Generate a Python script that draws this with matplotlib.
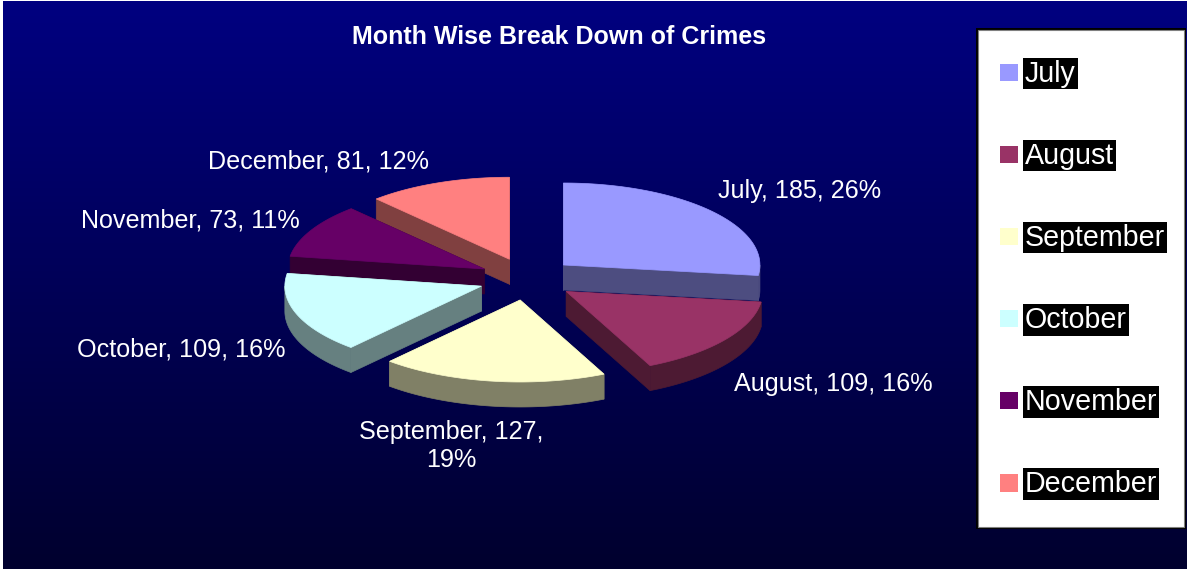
import numpy as np
import matplotlib
matplotlib.use('Agg')
import matplotlib.pyplot as plt
from matplotlib.patches import Polygon, Rectangle

plt.rcParams['font.family'] = ['Liberation Sans', 'DejaVu Sans']

months = ['July', 'August', 'September', 'October', 'November', 'December']
crimes = [185, 109, 127, 109, 73, 81]
percents = [26, 16, 19, 16, 11, 12]
top_colors = ['#9999FF', '#993366', '#FFFFCC', '#CCFFFF', '#660066', '#FF8080']
side_colors = ['#4D4D80', '#4D1A33', '#808066', '#668080', '#330033', '#804040']
title = 'Month Wise Break Down of Crimes'

# pie geometry in pixels
cx, cy = 527, 279
rx, ry = 196.5, 82
ex, ey = 48.5, 21.2
depth = 25


def pt(theta, r=1.0):
    # theta clockwise from the top, degrees
    t = np.radians(theta)
    return np.column_stack([r * rx * np.sin(t), -r * ry * np.cos(t)])


fig = plt.figure(figsize=(11.88, 5.69), dpi=100)
fig.patch.set_facecolor('white')
ax = fig.add_axes([0, 0, 1, 1])

# background gradient
grad = np.linspace(0, 1, 256).reshape(-1, 1, 1)
c1 = np.array([0, 0, 128]) / 255
c2 = np.array([0, 0, 46]) / 255
bg = c1 + (c2 - c1) * grad
ax.imshow(bg, extent=[3, 1187, 569, 1], aspect='auto', zorder=0)
ax.set_xlim(0, 1188)
ax.set_ylim(569, 0)
ax.axis('off')

# wedges
shares = np.array(crimes) / sum(crimes) * 360
ends = np.cumsum(shares)
starts = ends - shares
order = [0, 5, 4, 3, 1, 2]
z = 2
for i in order:
    a0, a1 = starts[i], ends[i]
    mid = (a0 + a1) / 2
    t = np.radians(mid)
    apex = np.array([cx + ex * np.sin(t), cy - ey * np.cos(t)])
    arc = pt(np.linspace(a0, a1, 80)) + apex

    # radial side faces
    for a in (a0, a1):
        p = pt(np.array([a]))[0] + apex
        quad = [apex, p, p + [0, depth], apex + [0, depth]]
        ax.add_patch(Polygon(quad, closed=True, fc=side_colors[i], ec=side_colors[i], lw=0.5, zorder=z))
    # outer rim, only the front half shows
    lo, hi = max(a0, 90), min(a1, 270)
    if hi > lo:
        rim = pt(np.linspace(lo, hi, 60)) + apex
        low = rim[::-1] + [0, depth]
        ax.add_patch(Polygon(np.vstack([rim, low]), closed=True, fc=side_colors[i], ec=side_colors[i], lw=0.5, zorder=z))
    # top
    ax.add_patch(Polygon(np.vstack([apex, arc]), closed=True, fc=top_colors[i], ec=top_colors[i], lw=0.5, zorder=z + 0.5))
    z += 1

# data labels
label_pos = [(799.5, 191), (833.5, 384), (451, 446), (181.5, 349), (190, 220), (318.5, 161)]
for i, m in enumerate(months):
    s = f'{m}, {crimes[i]}, {percents[i]}%'
    if m == 'September':
        s = f'{m}, {crimes[i]},\n{percents[i]}%'
    ax.text(label_pos[i][0], label_pos[i][1], s, color='white', fontsize=18.1,
            ha='center', va='center', linespacing=1.2, zorder=20)

ax.text(559.5, 37, title, color='white', fontsize=18, fontweight='bold', ha='center', va='center', zorder=20)

# legend box
ax.add_patch(Rectangle((976, 28), 209.5, 501, fc='black', ec='none', zorder=20))
ax.add_patch(Rectangle((977.5, 30), 206.5, 497, fc='white', ec='#808080', lw=0.8, zorder=20.5))
for i, m in enumerate(months):
    y = 72.5 + i * 82.1
    ax.add_patch(Rectangle((1000, y - 9), 18, 17.5, fc=top_colors[i], ec='none', zorder=21))
    ax.text(1025, y + 1, m, color='white', fontsize=20.6, ha='left', va='center', zorder=22,
            bbox=dict(facecolor='black', edgecolor='none', pad=1.2))

fig.savefig('out.png', dpi=100)
